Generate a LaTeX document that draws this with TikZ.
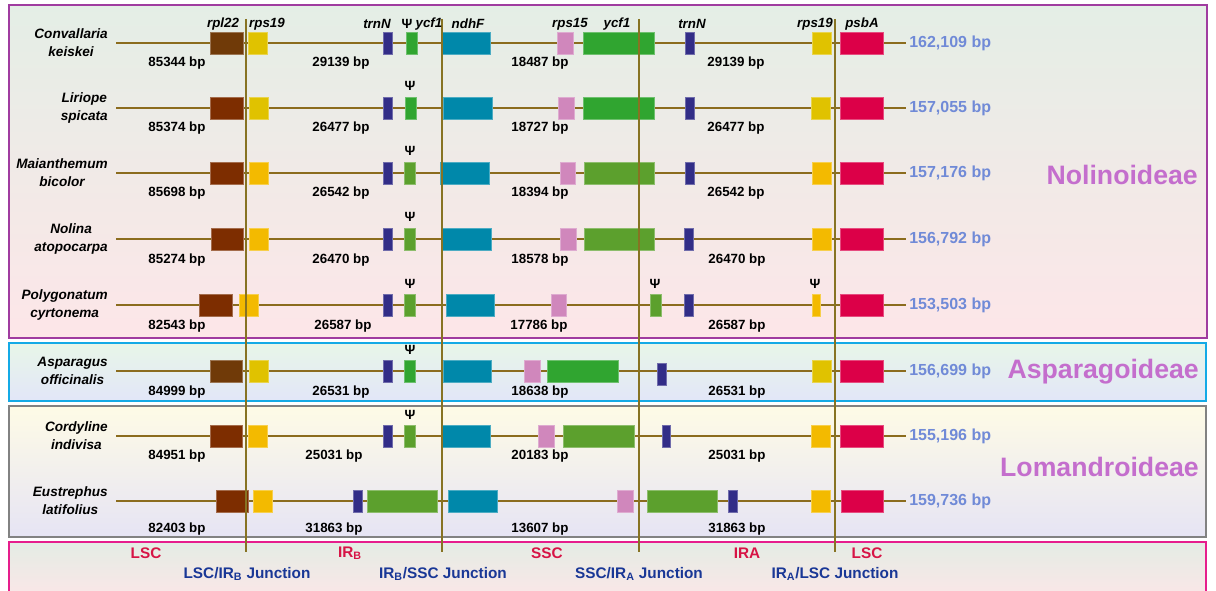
\documentclass[tikz,border=0pt]{standalone}
\usepackage{fontspec}
\setmainfont{Liberation Sans}
\usetikzlibrary{positioning}
% gene colours
\definecolor{rplA}{RGB}{112,58,8}
\definecolor{rplB}{RGB}{125,45,0}
\definecolor{rpsY}{RGB}{224,194,0}
\definecolor{rpsO}{RGB}{243,186,0}
\definecolor{trnC}{RGB}{50,45,135}
\definecolor{ycfG}{RGB}{48,165,48}
\definecolor{ycfL}{RGB}{92,160,45}
\definecolor{ndhC}{RGB}{0,136,170}
\definecolor{rpsP}{RGB}{208,135,188}
\definecolor{psbC}{RGB}{220,0,72}
% lines and texts
\definecolor{genomeC}{RGB}{139,108,30}
\definecolor{juncC}{RGB}{135,115,35}
\definecolor{totalC}{RGB}{112,138,215}
\definecolor{groupC}{RGB}{196,110,205}
\definecolor{regionC}{RGB}{215,20,70}
\definecolor{juncText}{RGB}{25,55,150}
% panels
\definecolor{nolEdge}{RGB}{160,60,160}
\definecolor{nolTop}{RGB}{228,238,230}
\definecolor{nolBot}{RGB}{253,230,232}
\definecolor{aspEdge}{RGB}{20,170,230}
\definecolor{aspTop}{RGB}{232,246,232}
\definecolor{aspBot}{RGB}{226,230,248}
\definecolor{lomEdge}{RGB}{130,130,130}
\definecolor{lomTop}{RGB}{254,251,230}
\definecolor{lomMid}{RGB}{252,231,233}
\definecolor{lomBot}{RGB}{230,228,244}
\definecolor{keyEdge}{RGB}{230,30,140}
\definecolor{keyTop}{RGB}{228,236,228}
\definecolor{keyBot}{RGB}{252,230,232}
\tikzset{
  genome/.style={genomeC, line width=1.5pt},
  junction/.style={juncC, line width=1.5pt},
  panel/.style={line width=1.5pt},
  genelab/.style={font=\bfseries\itshape\fontsize{10}{12}\selectfont, inner sep=0pt},
  psilab/.style={font=\bfseries\fontsize{10}{12}\selectfont, inner sep=0pt},
  species/.style={font=\bfseries\itshape\fontsize{10.2}{13.5}\selectfont, align=center, anchor=east, inner sep=0pt},
  bplab/.style={font=\bfseries\fontsize{10}{12}\selectfont, inner sep=0pt},
  total/.style={font=\bfseries\fontsize{12}{14}\selectfont, text=totalC, anchor=west, inner sep=0pt},
  group/.style={font=\bfseries\fontsize{20}{24}\selectfont, text=groupC, anchor=east, inner sep=0pt},
  region/.style={font=\bfseries\fontsize{11.5}{14}\selectfont, text=regionC, inner sep=0pt},
  junclab/.style={font=\bfseries\fontsize{11.5}{14}\selectfont, text=juncText, inner sep=0pt}
}
% gene box: colour, left, right, row
\newcommand{\gbox}[4]{\fill[#1, draw=#1!70!white, line width=0.5pt] (#2,#4-11) rectangle (#3,#4+11);}
\begin{document}
\begin{tikzpicture}[x=0.75pt, y=-0.75pt]
\useasboundingbox (0,0) rectangle (1216,591);
\def\xl{116}
\def\xr{906}
\def\jy{19}
\def\jb{552}
% Group panels
\shade[top color=nolTop, bottom color=nolBot] (9,5) rectangle (1207,338);
\draw[panel, nolEdge] (9,5) rectangle (1207,338);
\shade[top color=aspTop, bottom color=aspBot] (9,343) rectangle (1206,401);
\draw[panel, aspEdge] (9,343) rectangle (1206,401);
\shade[top color=lomTop, middle color=lomMid, bottom color=lomBot] (9,406) rectangle (1206,537);
\draw[panel, lomEdge] (9,406) rectangle (1206,537);
\shade[top color=keyTop, bottom color=keyBot] (9,542) rectangle (1206,600);
\draw[panel, keyEdge] (9,542) rectangle (1206,600);
% Genome lines
\foreach \y in {43,108,173,239,305,371,436,501}
  \draw[genome] (\xl,\y) -- (\xr,\y);
% Row 1: Convallaria keiskei
\gbox{rplA}{210}{243}{43} \gbox{rpsY}{248}{267}{43} \gbox{trnC}{383}{392}{43} \gbox{ycfG}{406}{417}{43}
\gbox{ndhC}{442}{490}{43} \gbox{rpsP}{557}{573}{43} \gbox{ycfG}{583}{654}{43} \gbox{trnC}{685}{694}{43}
\gbox{rpsY}{812}{831}{43} \gbox{psbC}{840}{883}{43}
% Row 2: Liriope spicata
\gbox{rplB}{210}{243}{108} \gbox{rpsY}{249}{268}{108} \gbox{trnC}{383}{392}{108} \gbox{ycfG}{405}{416}{108}
\gbox{ndhC}{443}{492}{108} \gbox{rpsP}{558}{574}{108} \gbox{ycfG}{583}{654}{108} \gbox{trnC}{685}{694}{108}
\gbox{rpsY}{811}{830}{108} \gbox{psbC}{840}{883}{108}
% Row 3: Maianthemum bicolor
\gbox{rplB}{210}{243}{173} \gbox{rpsO}{249}{268}{173} \gbox{trnC}{383}{392}{173} \gbox{ycfL}{404}{415}{173}
\gbox{ndhC}{440}{489}{173} \gbox{rpsP}{560}{575}{173} \gbox{ycfL}{584}{654}{173} \gbox{trnC}{685}{694}{173}
\gbox{rpsO}{812}{831}{173} \gbox{psbC}{840}{883}{173}
% Row 4: Nolina atopocarpa
\gbox{rplB}{211}{243}{239} \gbox{rpsO}{249}{268}{239} \gbox{trnC}{383}{392}{239} \gbox{ycfL}{404}{415}{239}
\gbox{ndhC}{442}{491}{239} \gbox{rpsP}{560}{576}{239} \gbox{ycfL}{584}{654}{239} \gbox{trnC}{684}{693}{239}
\gbox{rpsO}{812}{831}{239} \gbox{psbC}{840}{883}{239}
% Row 5: Polygonatum cyrtonema
\gbox{rplB}{199}{232}{305} \gbox{rpsO}{239}{258}{305} \gbox{trnC}{383}{392}{305} \gbox{ycfL}{404}{415}{305}
\gbox{ndhC}{446}{494}{305} \gbox{rpsP}{551}{566}{305} \gbox{ycfL}{650}{661}{305} \gbox{trnC}{684}{693}{305}
\gbox{rpsO}{812}{820}{305} \gbox{psbC}{840}{883}{305}
% Row 6: Asparagus officinalis
\gbox{rplA}{210}{242}{371} \gbox{rpsY}{249}{268}{371} \gbox{trnC}{383}{392}{371} \gbox{ycfG}{404}{415}{371}
\gbox{ndhC}{443}{491}{371} \gbox{rpsP}{524}{540}{371} \gbox{ycfG}{547}{618}{371} \gbox{trnC}{657}{666}{374}
\gbox{rpsY}{812}{831}{371} \gbox{psbC}{840}{883}{371}
% Row 7: Cordyline indivisa
\gbox{rplB}{210}{242}{436} \gbox{rpsO}{248}{267}{436} \gbox{trnC}{383}{392}{436} \gbox{ycfL}{404}{415}{436}
\gbox{ndhC}{441}{490}{436} \gbox{rpsP}{538}{554}{436} \gbox{ycfL}{563}{634}{436} \gbox{trnC}{662}{670}{436}
\gbox{rpsO}{811}{830}{436} \gbox{psbC}{840}{883}{436}
% Row 8: Eustrephus latifolius
\gbox{rplB}{216}{248}{501} \gbox{rpsO}{253}{272}{501} \gbox{trnC}{353}{362}{501} \gbox{ycfL}{367}{437}{501}
\gbox{ndhC}{448}{497}{501} \gbox{rpsP}{617}{633}{501} \gbox{ycfL}{647}{717}{501} \gbox{trnC}{728}{737}{501}
\gbox{rpsO}{811}{830}{501} \gbox{psbC}{841}{883}{501}
% Junction lines
\draw[junction] (246,\jy) -- (246,\jb);
\draw[junction] (442,\jy) -- (442,\jb);
\draw[junction] (639,\jy) -- (639,\jb);
\draw[junction] (835,\jy) -- (835,\jb);
% Gene names
\node[genelab] (g1) at (223,24) {rpl22};
\node[genelab] (g2) at (267,24) {rps19};
\node[genelab] (g3) at (377,24) {trnN};
\node[psilab] (g4) at (407,24) {Ψ};
\node[genelab] (g5) at (429,24) {ycf1};
\node[genelab] (g6) at (468,24) {ndhF};
\node[genelab] (g7) at (570,24) {rps15};
\node[genelab] (g8) at (617,24) {ycf1};
\node[genelab] (g9) at (692,24) {trnN};
\node[genelab] (g10) at (815,24) {rps19};
\node[genelab] (g11) at (862,24) {psbA};
% Pseudogene marks
\node[psilab] (p2) at (410,86) {Ψ};
\node[psilab] (p3) at (410,151) {Ψ};
\node[psilab] (p4) at (410,217) {Ψ};
\node[psilab] (p5a) at (410,284) {Ψ};
\node[psilab] (p5b) at (655,284) {Ψ};
\node[psilab] (p5c) at (815,284) {Ψ};
\node[psilab] (p6) at (410,350) {Ψ};
\node[psilab] (p7) at (410,415) {Ψ};
% Species
\node[species] (s1) at (108,43) {Convallaria\\keiskei};
\node[species] (s2) at (108,108) {Liriope\\spicata};
\node[species] (s3) at (108,173) {Maianthemum\\bicolor};
\node[species] (s4) at (108,239) {Nolina\\atopocarpa};
\node[species] (s5) at (108,305) {Polygonatum\\cyrtonema};
\node[species] (s6) at (108,371) {Asparagus\\officinalis};
\node[species] (s7) at (108,436) {Cordyline\\indivisa};
\node[species] (s8) at (108,501) {Eustrephus\\latifolius};
% Region lengths
\node[bplab] (l1a) at (177,63) {85344 bp};  \node[bplab] (l1b) at (341,63) {29139 bp};
\node[bplab] (l1c) at (540,63) {18487 bp};  \node[bplab] (l1d) at (736,63) {29139 bp};
\node[bplab] (l2a) at (177,128) {85374 bp}; \node[bplab] (l2b) at (341,128) {26477 bp};
\node[bplab] (l2c) at (540,128) {18727 bp}; \node[bplab] (l2d) at (736,128) {26477 bp};
\node[bplab] (l3a) at (177,193) {85698 bp}; \node[bplab] (l3b) at (341,193) {26542 bp};
\node[bplab] (l3c) at (540,193) {18394 bp}; \node[bplab] (l3d) at (736,193) {26542 bp};
\node[bplab] (l4a) at (177,260) {85274 bp}; \node[bplab] (l4b) at (341,260) {26470 bp};
\node[bplab] (l4c) at (540,260) {18578 bp}; \node[bplab] (l4d) at (737,260) {26470 bp};
\node[bplab] (l5a) at (177,326) {82543 bp}; \node[bplab] (l5b) at (343,326) {26587 bp};
\node[bplab] (l5c) at (539,326) {17786 bp}; \node[bplab] (l5d) at (737,326) {26587 bp};
\node[bplab] (l6a) at (177,392) {84999 bp}; \node[bplab] (l6b) at (341,392) {26531 bp};
\node[bplab] (l6c) at (540,392) {18638 bp}; \node[bplab] (l6d) at (737,392) {26531 bp};
\node[bplab] (l7a) at (177,456) {84951 bp}; \node[bplab] (l7b) at (334,456) {25031 bp};
\node[bplab] (l7c) at (540,456) {20183 bp}; \node[bplab] (l7d) at (737,456) {25031 bp};
\node[bplab] (l8a) at (177,529) {82403 bp}; \node[bplab] (l8b) at (334,529) {31863 bp};
\node[bplab] (l8c) at (540,529) {13607 bp}; \node[bplab] (l8d) at (737,529) {31863 bp};
% Genome sizes
\node[total] (t1) at (909,43) {162,109 bp};
\node[total] (t2) at (909,108) {157,055 bp};
\node[total] (t3) at (909,173) {157,176 bp};
\node[total] (t4) at (909,239) {156,792 bp};
\node[total] (t5) at (909,305) {153,503 bp};
\node[total] (t6) at (909,371) {156,699 bp};
\node[total] (t7) at (909,436) {155,196 bp};
\node[total] (t8) at (909,501) {159,736 bp};
% Subfamilies
\node[group] (nol) at (1198,175) {Nolinoideae};
\node[group] (asp) at (1199,372) {Asparagoideae};
\node[group] (lom) at (1199,467) {Lomandroideae};
% Regions and junctions
\node[region] (lsc1) at (146,553) {LSC};
\node[region] (irb) at (350,553) {IR\textsubscript{B}};
\node[region] (ssc) at (547,553) {SSC};
\node[region] (ira) at (747,553) {IRA};
\node[region] (lsc2) at (867,553) {LSC};
\node[junclab] (j1) at (247,574) {LSC/IR\textsubscript{B} Junction};
\node[junclab] (j2) at (443,574) {IR\textsubscript{B}/SSC Junction};
\node[junclab] (j3) at (639,574) {SSC/IR\textsubscript{A} Junction};
\node[junclab] (j4) at (835,574) {IR\textsubscript{A}/LSC Junction};
\end{tikzpicture}
\end{document}
